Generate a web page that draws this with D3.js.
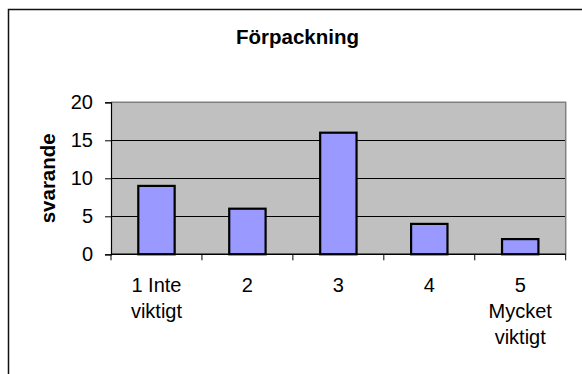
<!DOCTYPE html>
<html>
<head>
<meta charset="utf-8">
<script src="https://cdn.jsdelivr.net/npm/d3@7"></script>
<style>
  html, body { margin: 0; padding: 0; background: #fff; }
  svg { display: block; font-family: Arial, "Liberation Sans", sans-serif; }
</style>
</head>
<body>
<svg id="chart" width="582" height="374"></svg>
<script>
// Ratings 1–5 for packaging importance
const categories = ["1", "2", "3", "4", "5"];
const categoryLabels = [["1 Inte", "viktigt"], ["2"], ["3"], ["4"], ["5", "Mycket", "viktigt"]];
const values = [9, 6, 16, 4, 2];
const yTicks = [0, 5, 10, 15, 20];
const title = "Förpackning";
const yTitle = "svarande";

const svg = d3.select("#chart");
const plot = { left: 111, right: 565.7, top: 102.3, bottom: 254.3 };

// Outer chart frame (continues past the window on right and bottom)
svg.append("rect")
  .attr("x", 8.5).attr("y", 9.5)
  .attr("width", 600).attr("height", 400)
  .attr("fill", "none").attr("stroke", "#111").attr("stroke-width", 1.5);

const x = d3.scaleBand().domain(categories).range([plot.left, plot.right]).paddingInner(0).paddingOuter(0);
const y = d3.scaleLinear().domain([0, 20]).range([plot.bottom, plot.top]);

// Plot area background
svg.append("rect")
  .attr("x", plot.left).attr("y", plot.top)
  .attr("width", plot.right - plot.left).attr("height", plot.bottom - plot.top)
  .attr("fill", "#c0c0c0");

// Horizontal gridlines
svg.append("g").selectAll("line")
  .data(yTicks.filter(t => t > 0 && t < 20))
  .join("line")
  .attr("x1", plot.left).attr("x2", plot.right)
  .attr("y1", d => Math.round(y(d)) + 0.5).attr("y2", d => Math.round(y(d)) + 0.5)
  .attr("stroke", "#000").attr("stroke-width", 1);

// Plot border top and right
svg.append("path")
  .attr("d", `M${plot.left},${plot.top}H${plot.right}V${plot.bottom}`)
  .attr("fill", "none").attr("stroke", "#808080").attr("stroke-width", 1.5);

// Bars
const barW = x.bandwidth() / 2.5;
svg.append("g").selectAll("rect")
  .data(values)
  .join("rect")
  .attr("x", (d, i) => x(categories[i]) + (x.bandwidth() - barW) / 2)
  .attr("y", d => y(d))
  .attr("width", barW)
  .attr("height", d => y(0) - y(d))
  .attr("fill", "#9999ff")
  .attr("stroke", "#000")
  .attr("stroke-width", 2.2);

// Y axis
const yAxis = d3.axisLeft(y).tickValues(yTicks).tickSize(6).tickPadding(12);
const gy = svg.append("g").attr("transform", `translate(${plot.left},0)`).call(yAxis);
gy.select(".domain").attr("stroke", "#000").attr("stroke-width", 1.2);
gy.selectAll(".tick line").attr("stroke", "#000");
gy.selectAll(".tick text").attr("font-size", 20).attr("fill", "#000")
  .attr("font-family", "Arial, 'Liberation Sans', sans-serif");

// X axis: ticks at category boundaries
svg.append("line")
  .attr("x1", plot.left).attr("x2", plot.right)
  .attr("y1", plot.bottom).attr("y2", plot.bottom)
  .attr("stroke", "#000").attr("stroke-width", 1.4);
const bounds = categories.map(c => x(c)).concat([x.range()[1]]);
svg.append("g").selectAll("line")
  .data(bounds)
  .join("line")
  .attr("x1", d => d).attr("x2", d => d)
  .attr("y1", plot.bottom).attr("y2", plot.bottom + 6)
  .attr("stroke", "#000").attr("stroke-width", 1);

// Category labels
const xl = svg.append("g").attr("font-size", 20).attr("text-anchor", "middle").attr("fill", "#000");
categoryLabels.forEach((lines, i) => {
  const t = xl.append("text")
    .attr("x", x(categories[i]) + x.bandwidth() / 2)
    .attr("y", 292);
  lines.forEach((ln, j) => {
    t.append("tspan")
      .attr("x", x(categories[i]) + x.bandwidth() / 2)
      .attr("y", 292 + j * 26)
      .text(ln);
  });
});

// Title
svg.append("text")
  .attr("x", 297.5).attr("y", 44)
  .attr("text-anchor", "middle")
  .attr("font-size", 20.5).attr("font-weight", "bold")
  .text(title);

// Y axis title
svg.append("text")
  .attr("transform", `translate(55,${(plot.top + plot.bottom) / 2}) rotate(-90)`)
  .attr("text-anchor", "middle")
  .attr("font-size", 20.5).attr("font-weight", "bold")
  .text(yTitle);
</script>
</body>
</html>
